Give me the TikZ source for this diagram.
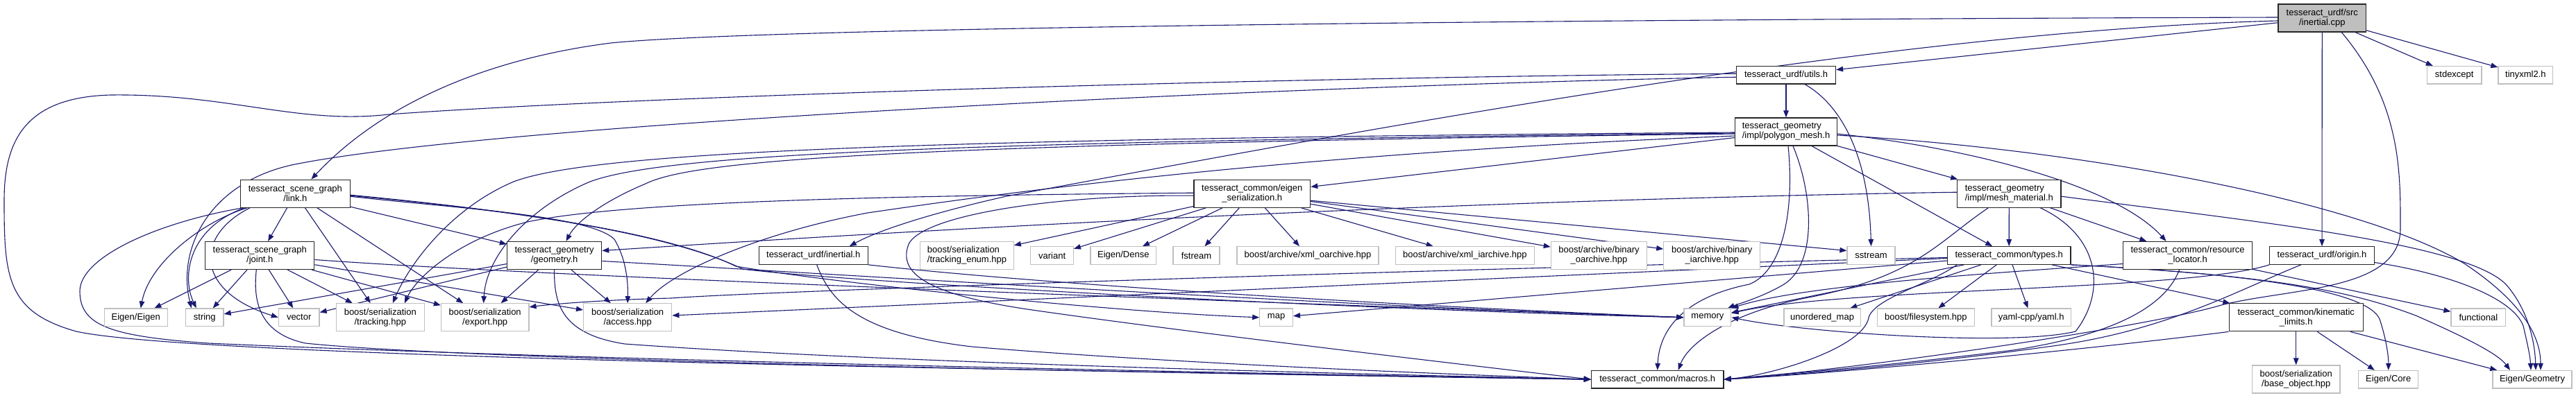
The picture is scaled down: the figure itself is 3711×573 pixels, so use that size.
\documentclass[tikz,border=0pt]{standalone}
\usepackage{fontspec}
\setmainfont{Liberation Sans}
\usetikzlibrary{arrows.meta}
\definecolor{edgec}{HTML}{191970}
\definecolor{extb}{HTML}{BFBFBF}
\definecolor{cppfill}{HTML}{BFBFBF}
\pgfdeclarelayer{bg}
\pgfsetlayers{bg,main}
\begin{document}
\begin{tikzpicture}[x=1pt,y=-1pt,
  every node/.style={font=\fontsize{13}{14}\selectfont, inner sep=0pt, align=center, text=black},
  proj/.style={draw=black!85, line width=1.2pt, fill=white},
  ext/.style={draw=extb, line width=1.2pt, fill=white},
  conn/.style={draw=edgec, line width=1.1pt, -{Triangle[length=10pt,width=7.5pt]}},
  h2/.style={minimum height=40pt},
  h1/.style={minimum height=25.5pt},
]
\useasboundingbox (0,0) rectangle (3711,573);
\begin{pgfonlayer}{bg}
\fill[white] (0,0) rectangle (3711,573);
\end{pgfonlayer}

% ---------- nodes ----------
\node[proj,h2,minimum width=126.5pt,fill=cppfill] (cpp) at (3345.3,26) {tesseract\_urdf/src\\/inertial.cpp};
\node[proj,h1,minimum width=143pt] (utils) at (2573,108.2) {tesseract\_urdf/utils.h};
\node[ext,h1,minimum width=78.4pt] (stdexcept) at (3535.7,108.2) {stdexcept};
\node[ext,h1,minimum width=78.9pt] (tinyxml) at (3638.4,108.2) {tinyxml2.h};
\node[proj,h2,minimum width=146.7pt,align=left] (poly) at (2573,190) {tesseract\_geometry\\/impl/polygon\_mesh.h};
\node[proj,h2,minimum width=157.5pt] (link) at (425.4,279.2) {tesseract\_scene\_graph\\/link.h};
\node[proj,h2,minimum width=167.7pt] (eser) at (1803.8,279.2) {tesseract\_common/eigen\\\_serialization.h};
\node[proj,h2,minimum width=149.5pt,align=left] (mat) at (2894.3,279.2) {tesseract\_geometry\\/impl/mesh\_material.h};

\node[proj,h2,minimum width=157pt] (joint) at (374.3,368.5) {tesseract\_scene\_graph\\/joint.h};
\node[proj,h2,minimum width=136.3pt] (geom) at (798.6,368.5) {tesseract\_geometry\\/geometry.h};
\node[proj,h1,minimum width=157pt] (inh) at (1171.7,368.5) {tesseract\_urdf/inertial.h};
\node[ext,h2,minimum width=134.5pt,align=left] (tenum) at (1393,368.5) {boost/serialization\\/tracking\_enum.hpp};
\node[ext,h1,minimum width=61.5pt] (variant) at (1515.6,368.5) {variant};
\node[ext,h1,minimum width=94.7pt] (dense) at (1618.3,368.5) {Eigen/Dense};
\node[ext,h1,minimum width=67pt] (fstream) at (1723.5,368.5) {fstream};
\node[ext,h1,minimum width=204pt] (xmlo) at (1884,368.5) {boost/archive/xml\_oarchive.hpp};
\node[ext,h1,minimum width=199.8pt] (xmli) at (2110.4,368.5) {boost/archive/xml\_iarchive.hpp};
\node[ext,h2,minimum width=138.3pt] (bino) at (2303.5,368.5) {boost/archive/binary\\\_oarchive.hpp};
\node[ext,h2,minimum width=139pt] (bini) at (2466.3,368.5) {boost/archive/binary\\\_iarchive.hpp};
\node[ext,h1,minimum width=69pt] (sstream) at (2695.5,368.5) {sstream};
\node[proj,h1,minimum width=177.6pt] (types) at (2894.2,368.5) {tesseract\_common/types.h};
\node[proj,h2,minimum width=186pt] (resloc) at (3151.6,368.5) {tesseract\_common/resource\\\_locator.h};
\node[proj,h1,minimum width=150.3pt] (origin) at (3345,368.5) {tesseract\_urdf/origin.h};

\node[ext,h1,minimum width=91pt] (eigen) at (195.7,457.8) {Eigen/Eigen};
\node[ext,h1,minimum width=54.5pt] (string) at (294.8,457.8) {string};
\node[ext,h1,minimum width=58.7pt] (vector) at (430.7,457.8) {vector};
\node[ext,h2,minimum width=127pt] (tracking) at (547.8,457.8) {boost/serialization\\/tracking.hpp};
\node[ext,h2,minimum width=126.5pt] (export) at (698.7,457.8) {boost/serialization\\/export.hpp};
\node[ext,h2,minimum width=127.2pt] (access) at (904.2,457.8) {boost/serialization\\/access.hpp};
\node[ext,h1,minimum width=47.6pt] (map) at (1838.6,457.8) {map};
\node[ext,h1,minimum width=67.8pt] (memory) at (2459.9,457.8) {memory};
\node[ext,h1,minimum width=110.3pt] (umap) at (2625.1,457.8) {unordered\_map};
\node[ext,h1,minimum width=139.5pt] (fs) at (2774.4,457.8) {boost/filesystem.hpp};
\node[ext,h1,minimum width=114.3pt] (yaml) at (2926.2,457.8) {yaml-cpp/yaml.h};
\node[proj,h2,minimum width=193.2pt] (kin) at (3307.7,457.8) {tesseract\_common/kinematic\\\_limits.h};
\node[ext,h1,minimum width=78.5pt] (functional) at (3570.3,457.8) {functional};

\node[proj,h1,minimum width=190.6pt] (macros) at (2387.7,547.2) {tesseract\_common/macros.h};
\node[ext,h2,minimum width=126.5pt] (base) at (3307.7,547) {boost/serialization\\/base\_object.hpp};
\node[ext,h1,minimum width=85.8pt] (core) at (3440.7,547.2) {Eigen/Core};
\node[ext,h1,minimum width=114pt] (geo) at (3648,547.2) {Eigen/Geometry};

% ---------- edges ----------
\begin{pgfonlayer}{bg}
% inertial.cpp
\draw[conn] (cpp) -- (utils);
\draw[conn] ([yshift=1pt]cpp.west) .. controls (2200,28) and (1100,40) .. (880,62) .. controls (700,85) and (550,150) .. ([xshift=23pt]link.north);
\draw[conn] ([yshift=-4pt]cpp.west) .. controls (2700,45) and (1900,200) .. (1450,283) .. controls (1330,310) and (1260,335) .. ([xshift=52pt]inh.north);
\draw[conn] (cpp) -- (origin);
\draw[conn] (cpp) -- (stdexcept);
\draw[conn] (cpp) -- (tinyxml);
\draw[conn] ([xshift=28pt]cpp.south) .. controls (3460,150) and (3458,250) .. (3458,330) .. controls (3458,420) and (3300,415) .. (3200,440) .. controls (3100,470) and (2700,530) .. (macros.east);
% utils
\draw[conn] (utils) -- (poly);
\draw[conn] ([xshift=27pt]utils.south) .. controls (2650,150) and (2692,220) .. (sstream.north);
\draw[conn] ([yshift=-3pt]utils.west) .. controls (1800,125) and (700,180) .. (420,238) .. controls (300,265) and (255,360) .. ([xshift=-19pt]string.north);
\draw[conn] ([yshift=2pt]utils.west) .. controls (1800,112) and (900,140) .. (560,165) .. controls (430,180) and (330,135) .. (160,137) .. controls (30,140) and (6,210) .. (6,290) .. controls (6,400) and (10,450) .. (110,478) .. controls (300,520) and (1800,538) .. (macros.west);
% polygon_mesh
\draw[conn] ([yshift=-3pt]poly.west) .. controls (1300,208) and (1000,230) .. (930,265) .. controls (870,290) and (830,320) .. ([xshift=17pt]geom.north);
\draw[conn] (poly) -- (eser);
\draw[conn] (poly) -- (mat);
\draw[conn] (poly) -- (types);
\draw[conn] ([yshift=-3pt]poly.east) .. controls (2850,215) and (3050,270) .. ([xshift=-31pt]resloc.north);
\draw[conn] ([yshift=-5pt]poly.east) .. controls (3000,215) and (3400,290) .. (3550,380) .. controls (3640,440) and (3660,490) .. ([xshift=12pt]geo.north);
\draw[conn] ([xshift=10pt]poly.south) .. controls (2612,280) and (2618,380) .. (2570,410) .. controls (2540,428) and (2505,438) .. ([xshift=29pt]memory.north);
\draw[conn] ([xshift=3pt]poly.south) .. controls (2585,300) and (2570,390) .. (2520,410) .. controls (2420,430) and (2390,480) .. (macros.north);
\draw[conn] ([yshift=-1pt]poly.west) .. controls (1300,200) and (850,220) .. (740,262) .. controls (650,300) and (590,380) .. ([xshift=18pt]tracking.north);
\draw[conn] ([yshift=-2pt]poly.west) .. controls (1300,205) and (950,225) .. (850,262) .. controls (760,300) and (700,370) .. ([xshift=-2pt]export.north);
\draw[conn] ([yshift=-6pt]poly.west) .. controls (1900,220) and (1500,270) .. (1250,307) .. controls (1100,335) and (970,390) .. ([xshift=26pt]access.north);
% link
\draw[conn] (link) -- (joint);
\draw[conn] (link) -- (geom);
\draw[conn] (link) -- (tracking);
\draw[conn] (link) -- (export);
\draw[conn] ([xshift=4pt]link.south west) .. controls (230,320) and (115,370) .. (115,420) .. controls (115,470) and (160,485) .. (300,495) .. controls (900,522) and (1900,540) .. (macros.west);
\draw[conn] ([xshift=10pt]link.south west) .. controls (290,320) and (215,380) .. ([xshift=7pt]eigen.north);
\draw[conn] ([xshift=6pt]link.south west) .. controls (270,330) and (262,400) .. ([xshift=-12pt]string.north);
\draw[conn] ([xshift=14pt]link.south west) .. controls (280,340) and (280,420) .. (vector.west);
\draw[conn] ([yshift=-3pt]link.east) .. controls (700,300) and (950,330) .. (1070,388) .. controls (1200,405) and (1900,445) .. (memory.west);
\draw[conn] ([yshift=-2pt]link.east) .. controls (700,300) and (950,330) .. (1060,384) .. controls (1200,408) and (1600,450) .. (map.west);
\draw[conn] ([yshift=-4pt]link.east) .. controls (650,300) and (850,310) .. (885,345) .. controls (900,370) and (905,400) .. (access.north);
% joint
\draw[conn] (joint) -- (eigen);
\draw[conn] (joint) -- (string);
\draw[conn] (joint) -- (vector);
\draw[conn] (joint) -- (tracking);
\draw[conn] (joint) -- (export);
\draw[conn] (joint) -- (access);
\draw[conn] ([xshift=-5pt]joint.south) .. controls (365,430) and (370,480) .. (440,495) .. controls (700,522) and (1800,540) .. (macros.west);
\draw[conn] ([yshift=-6pt]joint.east) .. controls (800,400) and (1800,435) .. (memory.west);
% geometry
\draw[conn] (geom) -- (export);
\draw[conn] (geom) -- (access);
\draw[conn] (geom) -- (string);
\draw[conn] (geom) -- (vector);
\draw[conn] (geom.south) .. controls (798,440) and (810,482) .. (900,496) .. controls (1300,525) and (2000,540) .. (macros.west);
\draw[conn] ([yshift=-8pt]geom.east) .. controls (1200,395) and (1900,440) .. (memory.west);
% inertial.h
\draw[conn] (inh.south east) .. controls (1500,410) and (2000,440) .. (memory.west);
\draw[conn] ([xshift=5pt]inh.south) .. controls (1195,430) and (1230,480) .. (1400,500) .. controls (1700,525) and (2100,540) .. (macros.west);
% eigen_serialization
\draw[conn] (eser) -- (tenum);
\draw[conn] (eser) -- (variant);
\draw[conn] (eser) -- (dense);
\draw[conn] (eser) -- (fstream);
\draw[conn] (eser) -- (xmlo);
\draw[conn] (eser) -- (xmli);
\draw[conn] (eser) -- (bino);
\draw[conn] (eser) -- (bini);
\draw[conn] ([yshift=-10pt]eser.east) -- ([yshift=7pt]sstream.west);
\draw[conn] ([yshift=1pt]eser.west) .. controls (1300,282) and (900,290) .. (760,320) .. controls (660,345) and (600,400) .. ([xshift=35pt]tracking.north);
\draw[conn] ([yshift=-3pt]eser.west) .. controls (1550,280) and (1340,305) .. (1310,350) .. controls (1290,395) and (1340,425) .. (1480,446) .. controls (1700,478) and (2100,525) .. (macros.west);
% mesh_material
\draw[conn] ([yshift=2pt]mat.west) .. controls (2000,290) and (1200,340) .. ([yshift=7pt]geom.east);
\draw[conn] (mat) -- (types);
\draw[conn] (mat) -- (resloc);
\draw[conn] ([yshift=-4pt]mat.east) .. controls (3250,320) and (3550,350) .. (3610,410) .. controls (3645,450) and (3652,500) .. ([xshift=5pt]geo.north);
\draw[conn] ([xshift=-30pt]mat.south) .. controls (2790,350) and (2760,400) .. (2600,430) .. controls (2480,455) and (2430,500) .. ([xshift=30pt]macros.north);
\draw[conn] ([xshift=45pt]mat.south) .. controls (3025,340) and (3035,420) .. (2990,478) .. controls (2900,500) and (2600,480) .. (memory.east);
% types
\draw[conn] (types) -- (memory);
\draw[conn] (types) -- (map);
\draw[conn] (types) -- (access);
\draw[conn] ([yshift=-3pt]types.west) .. controls (2000,390) and (1100,420) .. (967,430) .. controls (880,432) and (800,438) .. ([yshift=15pt]export.east);
\draw[conn] (types) -- (umap);
\draw[conn] (types) -- (fs);
\draw[conn] (types) -- (yaml);
\draw[conn] (types) -- (kin);
\draw[conn] ([xshift=-75pt]types.south) .. controls (2780,410) and (2700,430) .. (2692,458) .. controls (2685,500) and (2560,540) .. (macros.east);
\draw[conn] (types.south east) .. controls (3250,395) and (3410,420) .. (3428,460) .. controls (3438,490) and (3441,515) .. (core.north);
\draw[conn] (types.south east) .. controls (3300,398) and (3400,425) .. (3480,455) .. controls (3560,490) and (3600,512) .. ([xshift=-32pt]geo.north);
% resource_locator
\draw[conn] (resloc) -- (functional);
\draw[conn] ([yshift=-12pt]resloc.west) .. controls (2900,392) and (2600,410) .. (memory.north east);
\draw[conn] ([xshift=-12pt]resloc.south) .. controls (3120,440) and (3050,482) .. (2900,505) .. controls (2700,530) and (2550,541) .. (macros.east);
% origin
\draw[conn] ([xshift=-30pt]origin.south) .. controls (3220,420) and (3120,478) .. (2950,500) .. controls (2750,528) and (2560,542) .. (macros.east);
\draw[conn] (origin.south west) .. controls (3150,420) and (2650,415) .. ([yshift=6pt]memory.east);
\draw[conn] ([yshift=-10pt]origin.east) .. controls (3530,395) and (3620,430) .. (3635,470) .. controls (3642,500) and (3645,515) .. ([xshift=-2pt]geo.north);
% kinematic_limits
\draw[conn] (kin) -- (base);
\draw[conn] (kin) -- (core);
\draw[conn] (kin) -- (geo);
\draw[conn] (kin.south west) .. controls (3000,505) and (2650,538) .. (macros.east);
\end{pgfonlayer}
\end{tikzpicture}
\end{document}
